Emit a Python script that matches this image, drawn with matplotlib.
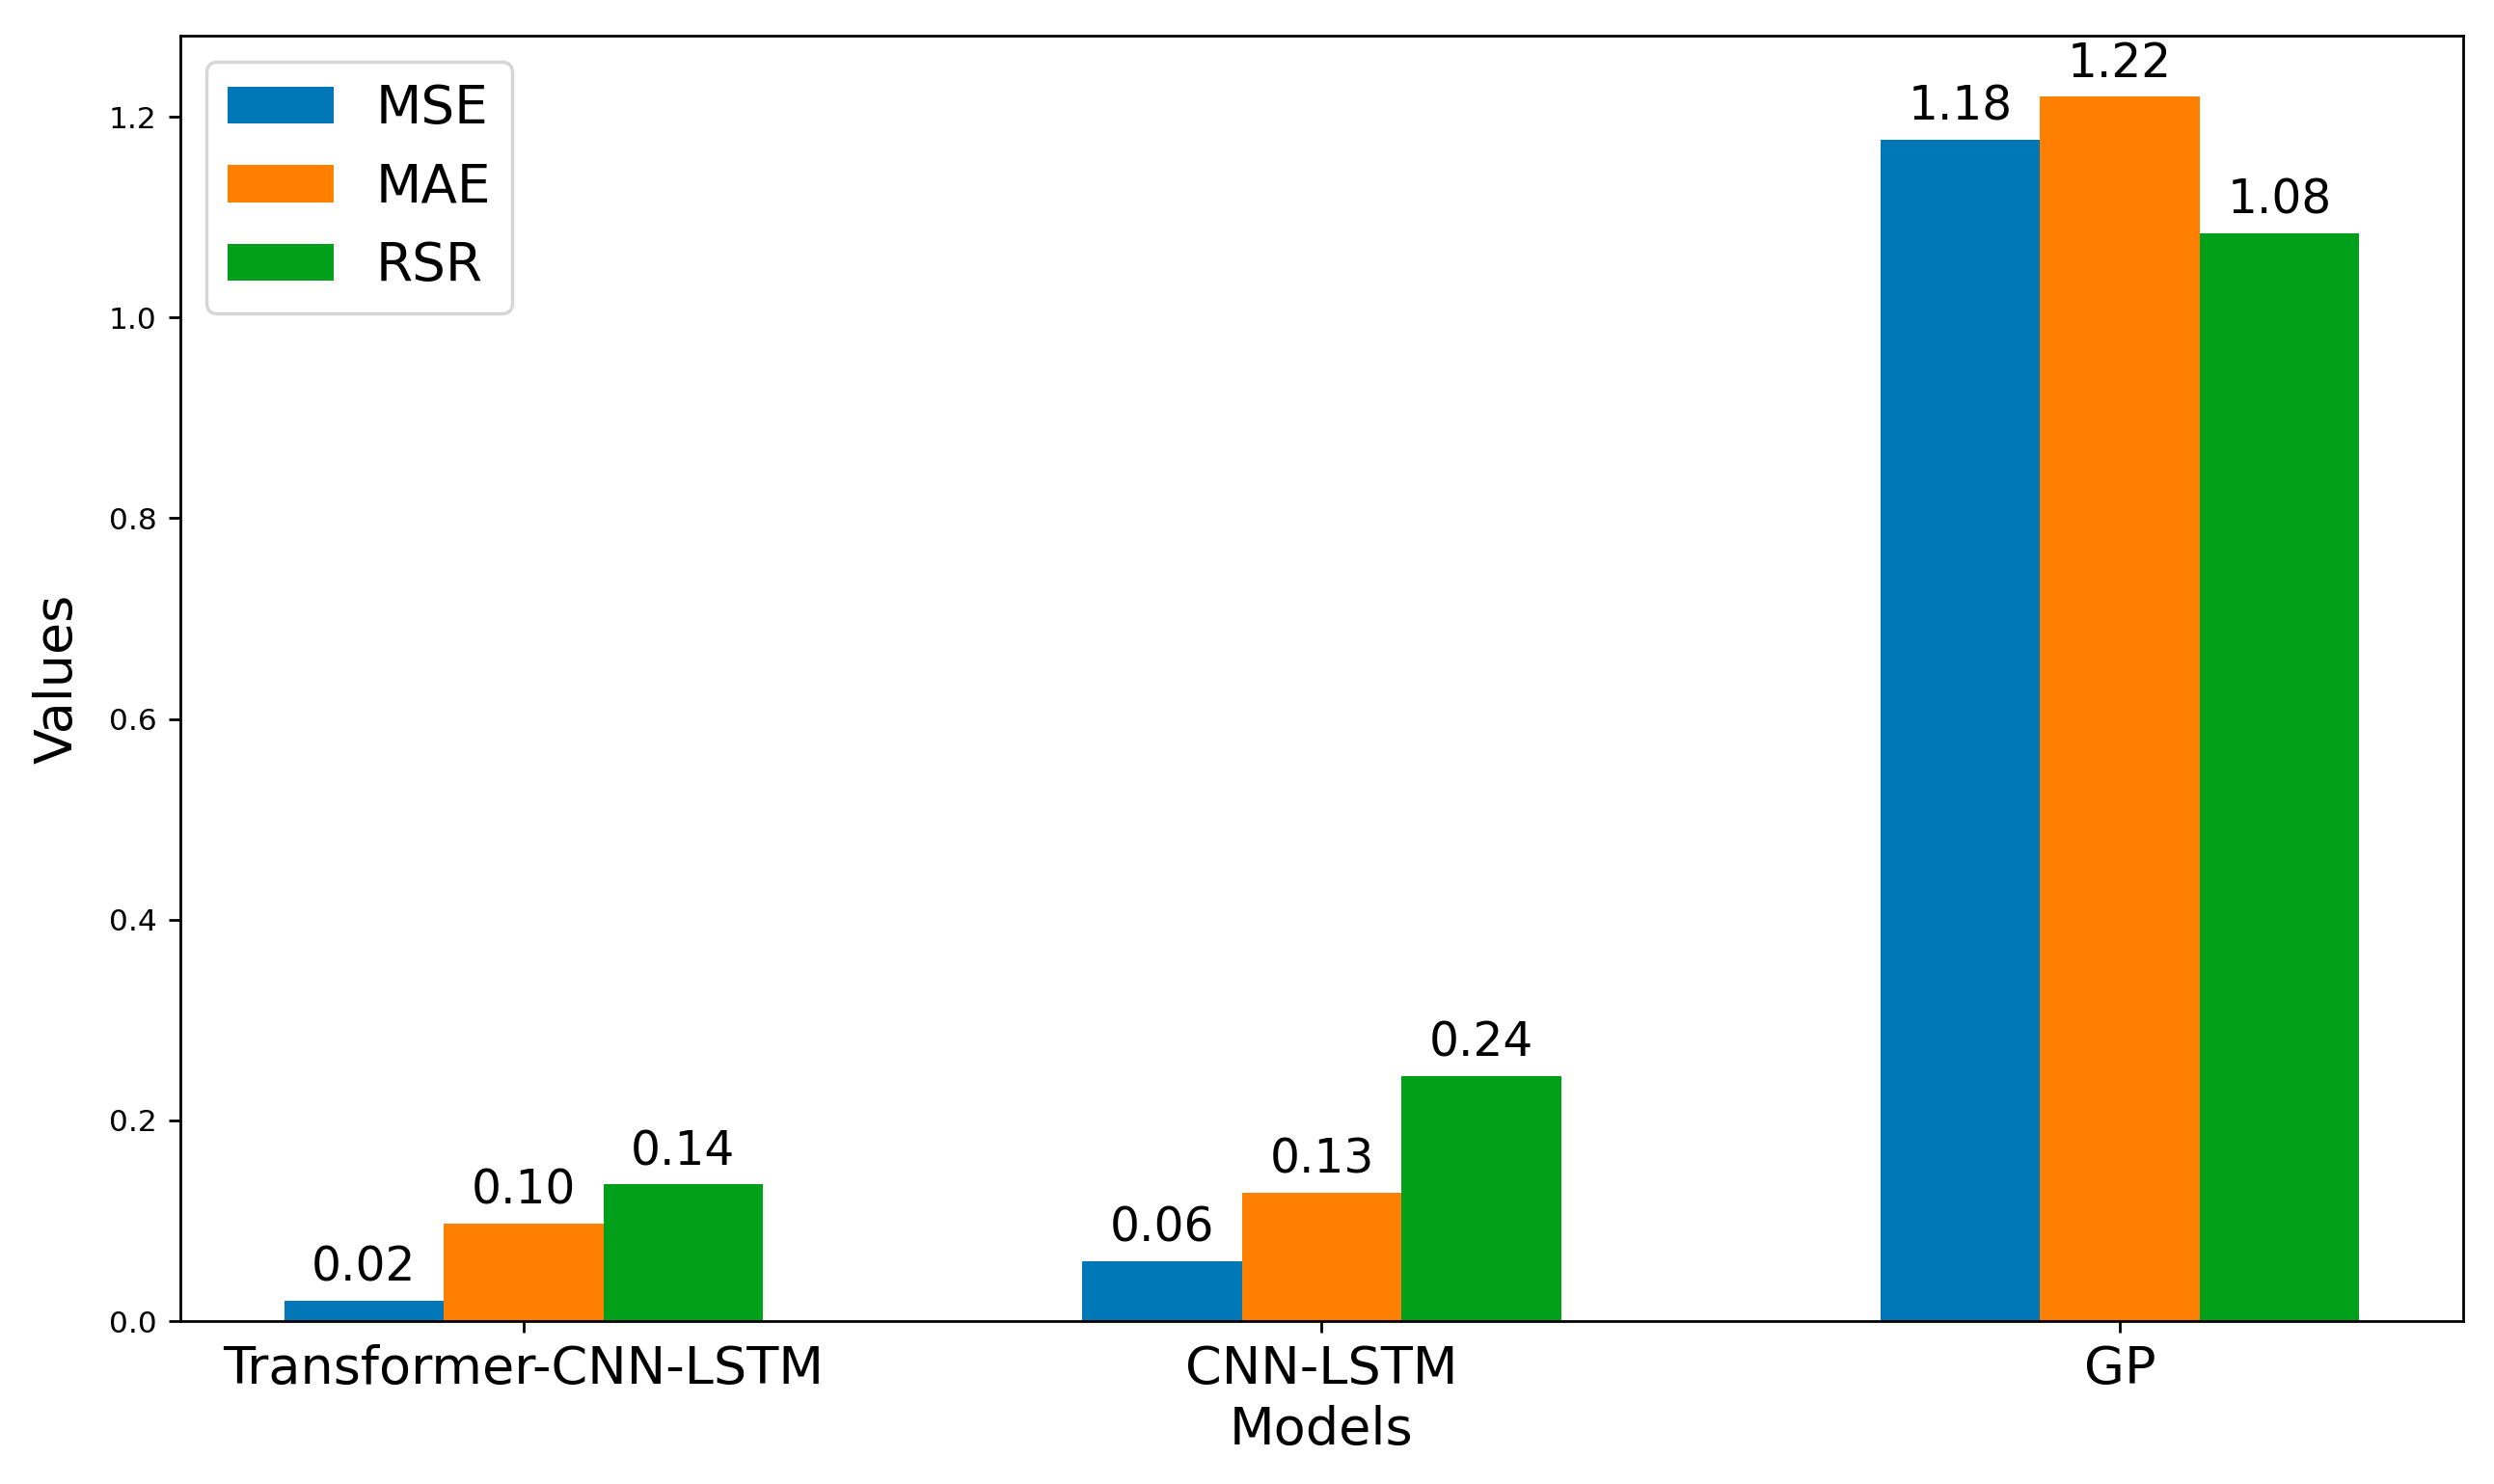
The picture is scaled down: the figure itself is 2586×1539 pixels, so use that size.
import numpy as np
import matplotlib
matplotlib.use("Agg")
import matplotlib.pyplot as plt

# data
models = ["Transformer-CNN-LSTM", "CNN-LSTM", "GP"]
metrics = ["MSE", "MAE", "RSR"]
mse = [0.020, 0.060, 1.177]
mae = [0.097, 0.128, 1.220]
rsr = [0.136, 0.244, 1.084]

colors = ["#0077b6", "#ff7f00", "#00a01a"]

fig = plt.figure(figsize=(10.344, 6.156), dpi=250)
ax = fig.add_axes([0.0723, 0.1098, 0.9153, 0.8662])

x = np.arange(len(models))
width = 0.2
for i, (vals, name) in enumerate(zip([mse, mae, rsr], metrics)):
    bars = ax.bar(x + (i - 1) * width, vals, width, label=name, color=colors[i])
    ax.bar_label(bars, fmt="%.2f", padding=3, fontsize=14)

ax.set_xticks(x)
ax.set_xticklabels(models, fontsize=15.6)
ax.tick_params(axis="y", labelsize=9)
ax.set_xlabel("Models", fontsize=15.6, labelpad=3)
ax.set_ylabel("Values", fontsize=15.5, labelpad=8)
ax.legend(fontsize=15.8, loc="upper left")

fig.savefig("out.png", dpi=250)
